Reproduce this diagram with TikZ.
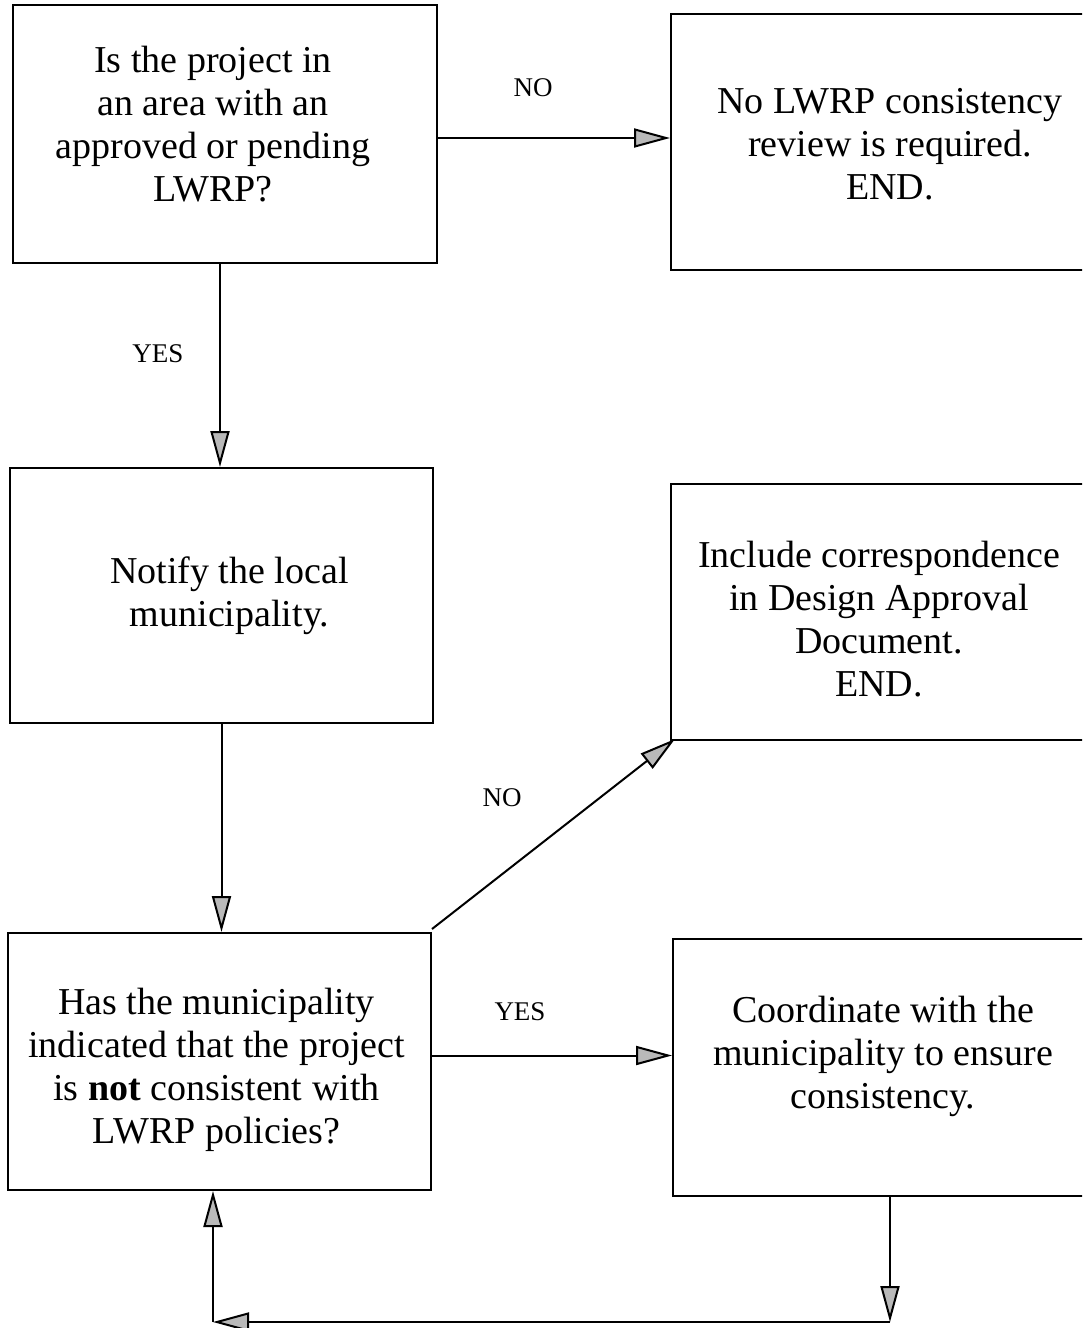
\documentclass[tikz,border=0pt]{standalone}
\usepackage{fontspec}
\setmainfont{Liberation Serif}
\usetikzlibrary{arrows.meta,calc}
\begin{document}
\begin{tikzpicture}[x=0.5pt,y=-0.5pt,
  box/.style={draw, line width=1pt, inner sep=0pt},
  txt/.style={align=center, inner sep=0pt, font=\fontsize{19}{21.5}\selectfont},
  lbl/.style={font=\fontsize{13.5}{16}\selectfont},
  flow/.style={line width=1pt,
    -{Triangle[length=18pt,width=9.5pt,fill=gray!55,line width=1pt]}}]
\clip (0,0) rectangle (1082,1328);
\fill[white] (0,0) rectangle (1082,1328);

% decision and action boxes
\node[box, minimum width=212pt, minimum height=129pt] (A) at (225,134) {};
\node[box, minimum width=215pt, minimum height=128pt] (B) at (886,142) {};
\node[box, minimum width=211.5pt, minimum height=127.5pt] (C) at (221.5,595.5) {};
\node[box, minimum width=215pt, minimum height=128pt] (D) at (886,612) {};
\node[box, minimum width=211.5pt, minimum height=128.5pt] (E) at (219.5,1061.5) {};
\node[box, minimum width=214pt, minimum height=128.5pt] (F) at (887,1067.5) {};

% box texts
\node[txt] (At) at ($(A)+(-12,-10)$)
  {Is the project in\\ an area with an\\ approved or pending\\ LWRP?};
\node[txt] (Bt) at ($(B)+(4,2)$)
  {No LWRP consistency\\ review is required.\\ END.};
\node[txt] (Ct) at ($(C)+(8,0)$)
  {Notify the local\\ municipality.};
\node[txt] (Dt) at ($(D)+(-7,7)$)
  {Include correspondence\\ in Design Approval\\ Document.\\ END.};
\node[txt] (Et) at ($(E)+(-3,8)$)
  {Has the municipality\\ indicated that the project\\ is \textbf{not} consistent with\\ LWRP policies?};
\node[txt] (Ft) at ($(F)+(-4,-11)$)
  {Coordinate with the\\ municipality to ensure\\ consistency.};

% return path corners
\coordinate (r1) at (890,1322);
\coordinate (r2) at (213,1322);

% connectors
\draw[flow] ($(A.east)+(0,4)$) -- ($(A.east -| B.west)+(0,4)$);
\draw[flow] ($(A.south)+(-5,0)$) -- ($(A.south |- C.north)+(-5,0)$);
\draw[flow] (C.south) -- (C.south |- E.north);
\draw[flow] ($(E.north east)+(0,-3)$) -- ($(D.south west)+(5,-2)$);
\draw[flow] ($(E.east)+(0,-6)$) -- ($(E.east -| F.west)+(0,-6)$);
\draw[flow] (F.south -| r1) -- (r1);
\draw[flow] (r1) -- (r2);
\draw[flow] (r2) -- (r2 |- E.south);

% branch labels
\node[lbl] (noA) at (533,88) {NO};
\node[lbl] (yesA) at (158,354) {YES};
\node[lbl] (noE) at (502,798) {NO};
\node[lbl] (yesE) at (520,1012) {YES};
\end{tikzpicture}
\end{document}
